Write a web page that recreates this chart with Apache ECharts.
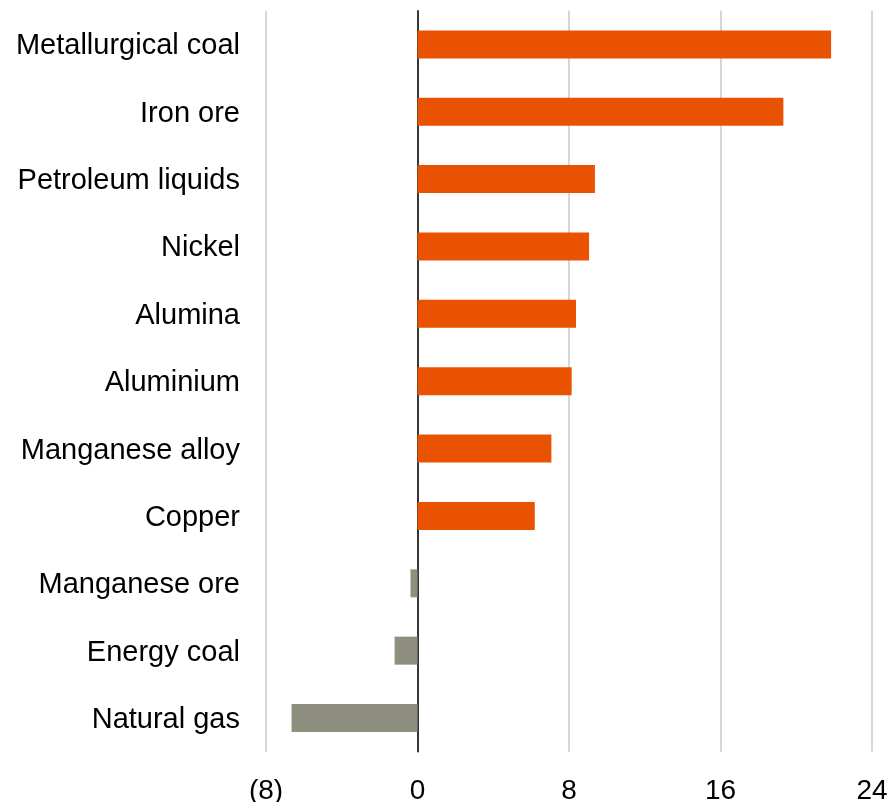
<!DOCTYPE html>
<html>
<head>
<meta charset="utf-8">
<script src="https://cdn.jsdelivr.net/npm/echarts@6/dist/echarts.min.js"></script>
<style>
html,body{margin:0;padding:0;background:#fff;}
#chart{width:891px;height:802px;}
</style>
</head>
<body>
<div id="chart"></div>
<script>
const categories = ["Metallurgical coal","Iron ore","Petroleum liquids","Nickel","Alumina","Aluminium","Manganese alloy","Copper","Manganese ore","Energy coal","Natural gas"];
const values = [21.84, 19.32, 9.37, 9.06, 8.37, 8.14, 7.07, 6.19, -0.37, -1.21, -6.65];
const xTicks = [-8, 0, 8, 16, 24];

const POS_COLOR = '#E85200';
const NEG_COLOR = '#8F8F80';

const chart = echarts.init(document.getElementById('chart'), null, {renderer:'canvas'});
chart.setOption({
  animation: false,
  backgroundColor: '#ffffff',
  grid: {left: 266, right: 19, top: 10.7, bottom: 50.3, containLabel: false, outerBoundsMode: 'none'},
  xAxis: {
    type: 'value',
    min: xTicks[0], max: xTicks[xTicks.length-1], interval: 8,
    axisLine: {show: false},
    axisTick: {show: false},
    splitLine: {show: true, lineStyle: {color: '#CACAC2', width: 1.5}},
    axisLabel: {
      fontFamily: 'Liberation Sans, Arial, sans-serif',
      fontSize: 28, color: '#000', margin: 26,
      formatter: v => v < 0 ? '(' + Math.abs(v) + ')' : String(v)
    }
  },
  yAxis: {
    type: 'category',
    data: categories,
    inverse: true,
    axisLine: {show: true, onZero: true, lineStyle: {color: '#000', width: 1.5}},
    axisTick: {show: false},
    splitLine: {show: false},
    axisLabel: {
      margin: 26,
      formatter: v => '{a|' + v + '}',
      rich: {
        a: {
          fontFamily: 'Liberation Sans, Arial, sans-serif',
          fontSize: 29, color: '#000',
          padding: [4, 0, 0, 0]
        }
      }
    }
  },
  series: [{
    type: 'bar',
    barWidth: 28,
    data: values.map(v => ({value: v, itemStyle: {color: v < 0 ? NEG_COLOR : POS_COLOR}})),
    z: 1
  }]
});
</script>
</body>
</html>
